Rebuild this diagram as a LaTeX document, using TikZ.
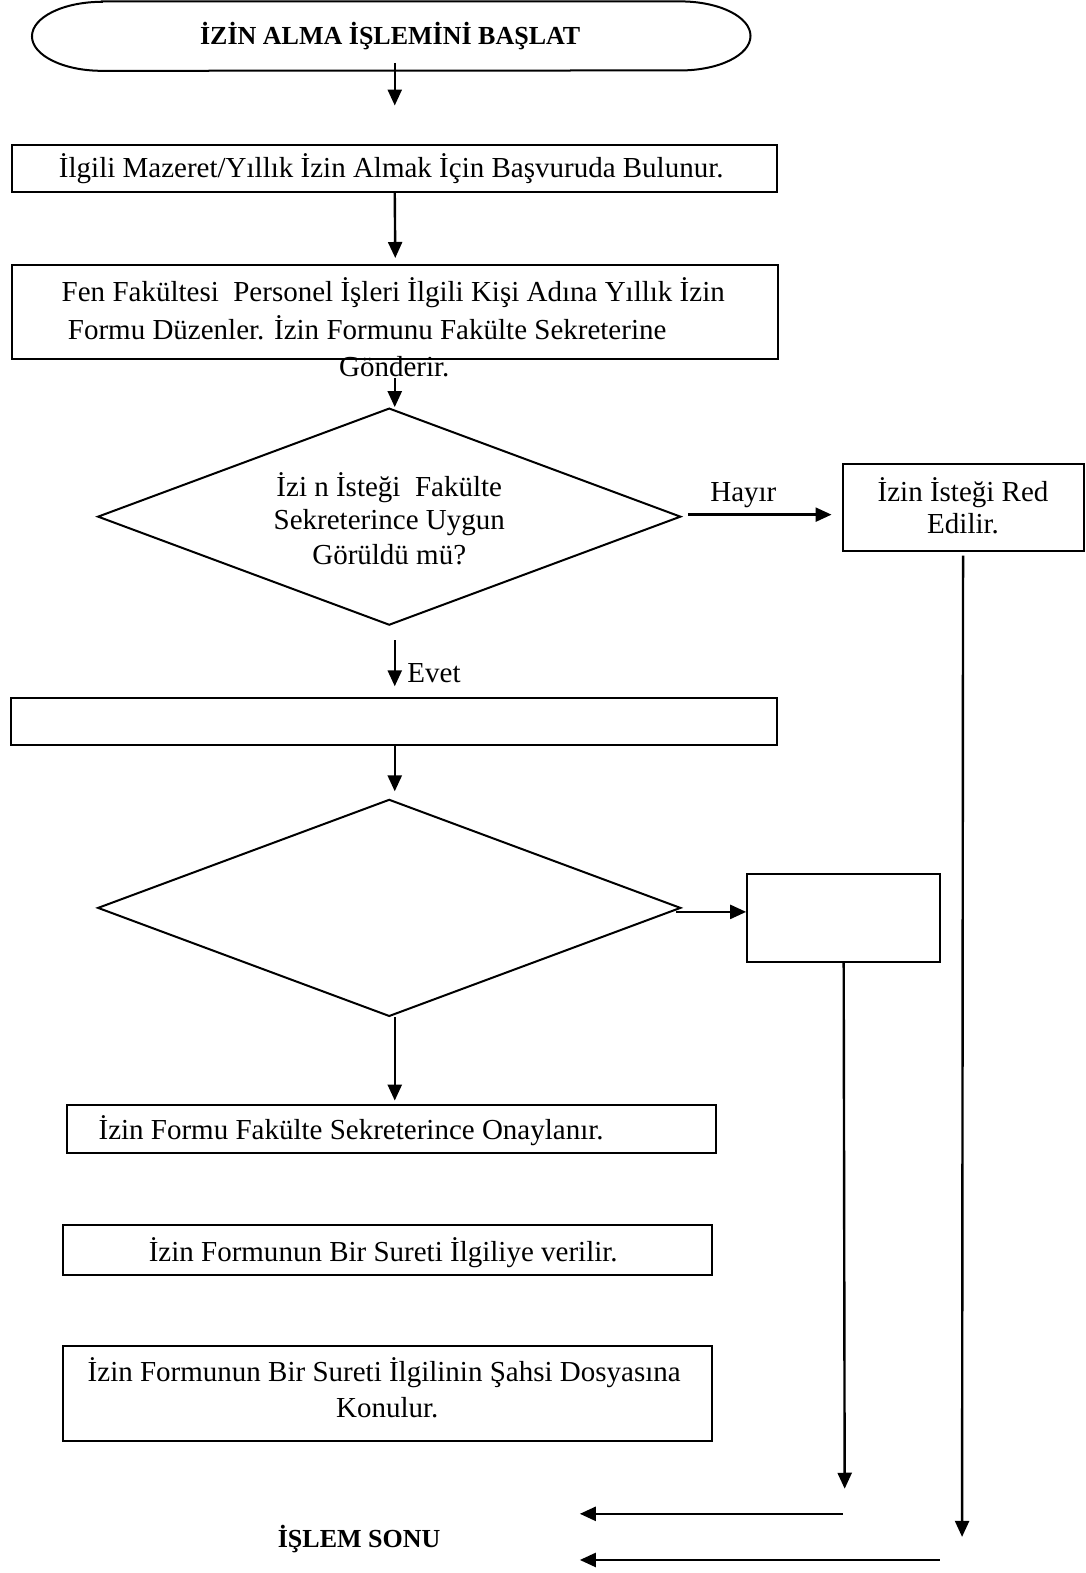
\documentclass[tikz,border=0pt]{standalone}
\usepackage{fontspec}
\setmainfont{Liberation Serif}
\usetikzlibrary{shapes.geometric,arrows.meta}

\begin{document}
\begin{tikzpicture}[x=1.003pt,y=-1.003pt,
  box/.style={draw, line width=2pt, inner sep=0pt},
  dia/.style={draw, diamond, line width=2pt, inner sep=0pt, minimum width=583pt, minimum height=217pt},
  arr/.style={-{Triangle[length=16pt,width=14pt]}, line width=2.4pt},
  txt/.style={inner sep=0pt, anchor=base, font=\fontsize{29}{34}\selectfont},
  btxt/.style={inner sep=0pt, anchor=base, font=\fontsize{26}{30}\selectfont\bfseries}]
\useasboundingbox (0,0) rectangle (1082,1568);

% start terminator
\node[inner sep=0pt, minimum width=718pt, minimum height=69pt] (t) at (390,36) {};
\draw[line width=2pt] ([xshift=70pt]t.north west) -- ([xshift=-70pt]t.north east)
  arc[start angle=90, end angle=-90, x radius=70pt, y radius=34.5pt]
  -- ([xshift=70pt]t.south west)
  arc[start angle=270, end angle=90, x radius=70pt, y radius=34.5pt] -- cycle;
\node[btxt] (ttl) at (389,44) {İZİN ALMA İŞLEMİNİ BAŞLAT};

% first step
\node[box, minimum width=765pt, minimum height=47pt] (b1) at (393.5,167.5) {};
\node[txt] (b1t) at (390,177) {İlgili Mazeret/Yıllık İzin Almak İçin Başvuruda Bulunur.};

% second step
\node[box, minimum width=766pt, minimum height=94pt] (b2) at (394,311) {};
\node[txt] (b2a) at (392,301) {Fen Fakültesi \ Personel İşleri İlgili Kişi Adına Yıllık İzin};
\node[txt] (b2b) at (366,338) {Formu Düzenler. İzin Formunu Fakülte Sekreterine};
\node[txt] (b2c) at (393,375) {Gönderir.};

% first decision
\node[dia] (d1) at (388,515) {};
\node[txt] (d1a) at (388,495) {İzi n İsteği \ Fakülte};
\node[txt] (d1b) at (388,528) {Sekreterince Uygun};
\node[txt] (d1c) at (388,563) {Görüldü mü?};

% rejection
\node[box, minimum width=241pt, minimum height=87pt] (r1) at (960,505.5) {};
\node[txt] (r1a) at (960,500) {İzin İsteği Red};
\node[txt] (r1b) at (960,532) {Edilir.};
\node[txt] (hay) at (741,500) {Hayır};

% empty step
\node[box, minimum width=766pt, minimum height=47pt] (e1) at (393,719.5) {};
\node[txt, anchor=base west] (evet) at (406,680) {Evet};

% second decision
\node[dia] (d2) at (388,905) {};
\node[box, minimum width=193pt, minimum height=88pt] (c1) at (841,915) {};

% approval steps
\node[box, minimum width=649pt, minimum height=48pt] (f1) at (390.5,1125) {};
\node[txt] (f1t) at (350,1136) {İzin Formu Fakülte Sekreterince Onaylanır.};
\node[box, minimum width=649pt, minimum height=50pt] (f2) at (386.5,1246) {};
\node[txt] (f2t) at (382,1257) {İzin Formunun Bir Sureti İlgiliye verilir.};
\node[box, minimum width=649pt, minimum height=95pt] (f3) at (386.5,1389.5) {};
\node[txt] (f3a) at (383,1377) {İzin Formunun Bir Sureti İlgilinin Şahsi Dosyasına};
\node[txt] (f3b) at (386,1413) {Konulur.};

% end
\node[btxt] (son) at (358,1543) {İŞLEM SONU};
\coordinate (k1) at (840,1509);
\coordinate (k2) at (578,1509);
\coordinate (k3) at (937,1555);
\coordinate (k4) at (578,1555);
\coordinate (v1) at (842,1484);
\coordinate (v2) at (959,1532);

% connectors
\draw[arr] ([yshift=8pt]t.south -| b1.south) -- ([yshift=38pt]b1.north);
\draw[arr] (b1.south) -- ([yshift=6pt]b2.north);
\draw[arr] ([yshift=-18pt]b2.south -| b1.south) -- (d1.north -| b1.south);
\draw[arr, shorten >=10pt] ([xshift=6pt,yshift=2pt]d1.east) -- ([yshift=2pt]d1.east -| r1.west);
\draw[arr] ([yshift=-4pt]r1.south) -- (v2);
\draw[arr] ([yshift=-14pt]d1.south -| b1.south) -- ([yshift=11pt]e1.north -| b1.south);
\draw[arr] (e1.south -| b1.south) -- ([yshift=7pt]d2.north -| b1.south);
\draw[arr] ([xshift=-6pt,yshift=-4pt]d2.east) -- ([yshift=-4pt]d2.east -| c1.west);
\draw[arr] (c1.south) -- (v1);
\draw[arr] (d2.south -| b1.south) -- ([yshift=3pt]f1.north -| b1.south);
\draw[arr] (k1) -- (k2);
\draw[arr] (k3) -- (k4);
\end{tikzpicture}
\end{document}
